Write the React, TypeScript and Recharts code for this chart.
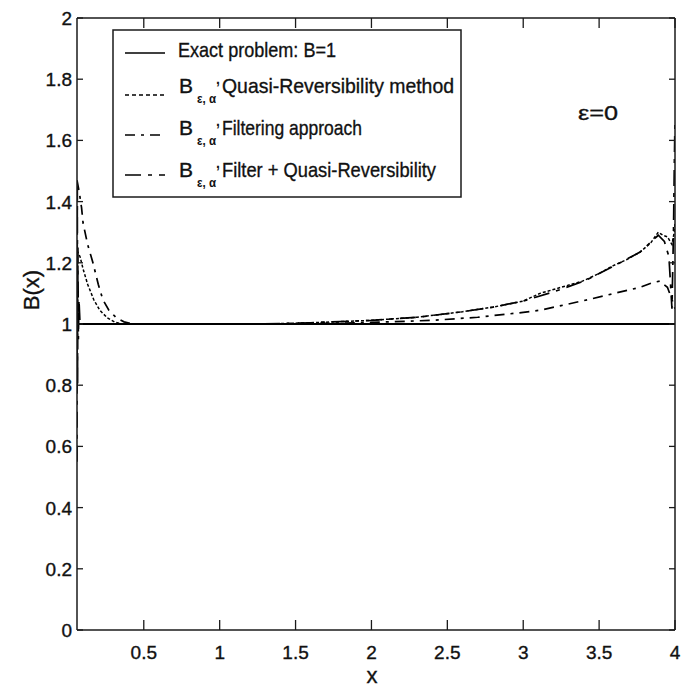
import React from 'react';
import { LineChart, Line, XAxis, YAxis, Customized } from 'recharts';

const xTicks = [0.5, 1, 1.5, 2, 2.5, 3, 3.5, 4];
const yTicks = [0, 0.2, 0.4, 0.6, 0.8, 1, 1.2, 1.4, 1.6, 1.8, 2];

const exactX = [0.06, 4];
const exactY = [1, 1];

const qrX = [0.06, 0.08, 0.1, 0.13, 0.17, 0.21, 0.26, 0.31, 0.36, 0.5, 1.0, 1.3, 1.6, 2.0, 2.3, 2.6, 2.8, 3.0, 3.11, 3.25, 3.39, 3.5, 3.59, 3.68, 3.77, 3.84, 3.89, 3.92, 3.95, 3.98, 3.995, 4.0];
const qrY = [1.24, 1.22, 1.18, 1.13, 1.08, 1.045, 1.02, 1.006, 1.0, 1.0, 1.0, 1.0, 1.004, 1.012, 1.022, 1.04, 1.055, 1.075, 1.1, 1.12, 1.14, 1.165, 1.19, 1.21, 1.235, 1.265, 1.3, 1.29, 1.285, 1.26, 1.3, 1.33];

const filtX = [0.06, 0.075, 0.09, 0.1, 0.13, 0.165, 0.2, 0.23, 0.27, 0.32, 0.37, 0.43, 0.7, 1.0, 1.3, 1.7, 2.0, 2.4, 2.7, 3.0, 3.11, 3.25, 3.43, 3.6, 3.77, 3.85, 3.9, 3.95, 3.98, 4.0];
const filtY = [1.47, 1.43, 1.38, 1.33, 1.26, 1.2, 1.13, 1.08, 1.045, 1.02, 1.007, 1.0, 1.0, 1.0, 1.0, 1.002, 1.005, 1.012, 1.022, 1.038, 1.045, 1.06, 1.08, 1.1, 1.12, 1.135, 1.14, 1.12, 1.08, 1.05];

const fqrX = [0.06, 0.062, 0.064, 0.066, 0.069, 0.073, 0.08, 0.1, 0.3, 0.7, 1.25, 1.6, 2.0, 2.3, 2.6, 2.8, 3.0, 3.2, 3.4, 3.6, 3.77, 3.89, 3.93, 3.96, 3.98, 3.99, 3.995, 4.0];
const fqrY = [0.55, 1.45, 0.8, 1.25, 0.95, 1.08, 1.0, 1.0, 1.0, 1.0, 1.0, 1.004, 1.012, 1.022, 1.04, 1.055, 1.075, 1.105, 1.14, 1.19, 1.235, 1.29, 1.27, 1.22, 1.05, 1.3, 1.5, 1.67];

const legendLabels = ['Exact problem: B=1', 'Quasi-Reversibility method', 'Filtering approach', 'Filter + Quasi-Reversibility'];
const epsLabel = 'ε=0';
const xLabel = 'x';
const yLabel = 'B(x)';

const toData = (xs: number[], ys: number[]) => xs.map((x, i) => ({ x, y: ys[i] }));
const exactData = toData(exactX, exactY);
const qrData = toData(qrX, qrY);
const filtData = toData(filtX, filtY);
const fqrData = toData(fqrX, fqrY);

const FONT = "'Liberation Sans', Arial, Helvetica, sans-serif";
const AX = '#1a1a1a';
const TS = { stroke: '#111', strokeWidth: 0.35 };

const fmt = (v: number) => Number(v.toFixed(2)).toString();

const LeftTick = (p: any) => (
  <g>
    <line x1={p.x} y1={p.y} x2={p.x + 6} y2={p.y} stroke={AX} strokeWidth={1.3} />
    <text x={p.x - 5} y={p.y + 7} textAnchor="end" fontSize={19} fill="#111" {...TS} fontFamily={FONT}>{fmt(p.payload.value)}</text>
  </g>
);
const RightTick = (p: any) => (
  <line x1={p.x} y1={p.y} x2={p.x - 6} y2={p.y} stroke={AX} strokeWidth={1.3} />
);
const BottomTick = (p: any) => (
  <g>
    <line x1={p.x} y1={p.y} x2={p.x} y2={p.y - 10} stroke={AX} strokeWidth={1.3} />
    <text x={p.x} y={p.y + 29} textAnchor="middle" fontSize={19} fill="#111" {...TS} fontFamily={FONT}>{fmt(p.payload.value)}</text>
  </g>
);
const TopTick = (p: any) => (
  <line x1={p.x} y1={p.y} x2={p.x} y2={p.y + 10} stroke={AX} strokeWidth={1.3} />
);

const dashes = [null, '4 3', '10 6 3 6', '16 7 4 7'];

const LegendBox = () => {
  const rowsLine = [53, 95, 135, 175];
  const rowsBase = [57, 93, 135, 177];
  return (
    <g fontFamily={FONT} fill="#111">
      <rect x={113} y={30} width={348} height={167} fill="#fff" stroke={AX} strokeWidth={1.5} />
      {rowsLine.map((ly, i) => (
        <line key={'l' + i} x1={125} x2={165} y1={ly} y2={ly} stroke="#000" strokeWidth={1.6}
          strokeDasharray={dashes[i] || undefined} />
      ))}
      <text x={178} y={rowsBase[0]} fontSize={21} {...TS} textLength={158} lengthAdjust="spacingAndGlyphs">{legendLabels[0]}</text>
      {[1, 2, 3].map((i) => (
        <g key={'t' + i}>
          <text x={179} y={rowsBase[i]} fontSize={21} {...TS} textLength={14} lengthAdjust="spacingAndGlyphs">B</text>
          <text x={197} y={rowsBase[i] + 10} fontSize={13} fontWeight="bold" textLength={19} lengthAdjust="spacingAndGlyphs">ε, α</text>
          <text x={216} y={rowsBase[i] - 9} fontSize={14} fontWeight="bold">,</text>
          <text x={222} y={rowsBase[i]} fontSize={21} {...TS}
            textLength={i === 1 ? 232 : i === 2 ? 140 : 214} lengthAdjust="spacingAndGlyphs">{legendLabels[i]}</text>
        </g>
      ))}
      <text x={598} y={120} fontSize={21} {...TS} textAnchor="middle" textLength={40} lengthAdjust="spacingAndGlyphs">{epsLabel}</text>
      <text x={372} y={683} fontSize={22} {...TS} textAnchor="middle">{xLabel}</text>
      <text x={39} y={290} fontSize={22} {...TS} textAnchor="middle" transform="rotate(-90 39 290)">{yLabel}</text>
    </g>
  );
};

export default function App() {
  return (
    <div style={{ position: 'absolute', left: 0, top: 0, background: '#fff' }}>
      <LineChart width={681} height={689} margin={{ top: 0, right: 0, bottom: 0, left: 0 }}>
        <XAxis xAxisId="b" dataKey="x" type="number" domain={[0.06, 4]} ticks={xTicks} orientation="bottom"
          height={59} tickSize={0} tickMargin={0} tick={<BottomTick />} axisLine={{ stroke: AX, strokeWidth: 1.5 }}
          allowDataOverflow />
        <XAxis xAxisId="t" dataKey="x" type="number" domain={[0.06, 4]} ticks={xTicks} orientation="top"
          height={18} tickSize={0} tickMargin={0} tick={<TopTick />} axisLine={{ stroke: AX, strokeWidth: 1.5 }}
          allowDataOverflow />
        <YAxis yAxisId="l" type="number" domain={[0, 2]} ticks={yTicks} orientation="left" width={77}
          tickSize={0} tickMargin={0} tick={<LeftTick />} axisLine={{ stroke: AX, strokeWidth: 1.5 }} allowDataOverflow />
        <YAxis yAxisId="r" type="number" domain={[0, 2]} ticks={yTicks} orientation="right" width={6}
          tickSize={0} tickMargin={0} tick={<RightTick />} axisLine={{ stroke: AX, strokeWidth: 1.5 }} allowDataOverflow />
        <Line xAxisId="b" yAxisId="l" data={exactData} dataKey="y" type="linear" dot={false} stroke="#000" strokeWidth={1.8} isAnimationActive={false} />
        <Line xAxisId="b" yAxisId="l" data={qrData} dataKey="y" type="linear" dot={false} stroke="#000" strokeWidth={1.5} strokeDasharray="3 2" isAnimationActive={false} />
        <Line xAxisId="b" yAxisId="l" data={filtData} dataKey="y" type="linear" dot={false} stroke="#000" strokeWidth={1.7} strokeDasharray="10 6 3 6" isAnimationActive={false} />
        <Line xAxisId="b" yAxisId="l" data={fqrData} dataKey="y" type="linear" dot={false} stroke="#000" strokeWidth={1.7} strokeDasharray="16 7 4 7" isAnimationActive={false} />
        <Customized component={LegendBox} />
      </LineChart>
    </div>
  );
}
